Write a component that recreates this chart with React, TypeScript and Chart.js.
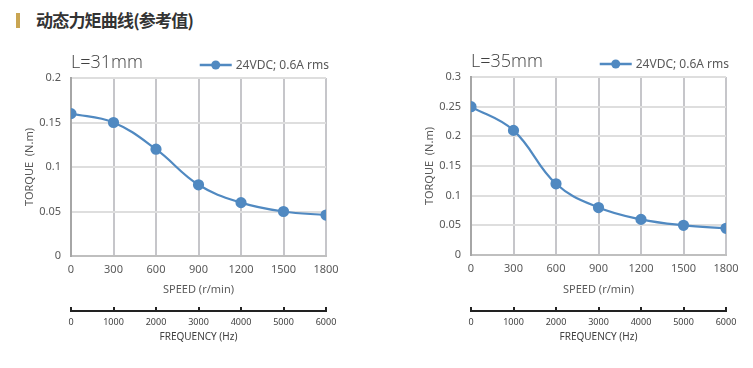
import React, { useEffect, useRef } from "react";
import { Chart, registerables } from "chart.js";

Chart.register(...registerables);

const speedTicks = [0, 300, 600, 900, 1200, 1500, 1800];
const freqTicks = [0, 1000, 2000, 3000, 4000, 5000, 6000];
const torque31 = [0.16, 0.15, 0.12, 0.08, 0.06, 0.05, 0.046];
const torque35 = [0.25, 0.21, 0.12, 0.08, 0.06, 0.05, 0.045];
const torqueTicks31 = [0, 0.05, 0.1, 0.15, 0.2];
const torqueTicks35 = [0, 0.05, 0.1, 0.15, 0.2, 0.25, 0.3];
const seriesLabel = "24VDC; 0.6A rms";
const headerText = "动态力矩曲线(参考值)";

const LINE = "#5089c1";
const FONT = '"Noto Sans", "Open Sans", sans-serif';

const legendTitlePlugin = (title: string) => ({
  id: "legendTitle",
  afterDraw(chart: any) {
    const { ctx, chartArea } = chart;
    const ds = chart.data.datasets[0];
    ctx.save();
    // title
    ctx.font = `300 18px "Open Sans", ${FONT}`;
    ctx.fillStyle = "#404040";
    ctx.textBaseline = "middle";
    ctx.textAlign = "left";
    ctx.fillText(title, chartArea.left, chartArea.top - 15);
    // legend
    ctx.font = `12px ${FONT}`;
    const w = ctx.measureText(ds.label).width;
    const textX = chartArea.right + 3 - w;
    const ly = chartArea.top - 13;
    const lineEnd = textX - 4;
    const lineStart = lineEnd - 32;
    ctx.strokeStyle = LINE;
    ctx.lineWidth = 2.5;
    ctx.beginPath();
    ctx.moveTo(lineStart, ly);
    ctx.lineTo(lineEnd, ly);
    ctx.stroke();
    ctx.fillStyle = LINE;
    ctx.beginPath();
    ctx.arc((lineStart + lineEnd) / 2, ly, 4.5, 0, Math.PI * 2);
    ctx.fill();
    ctx.fillStyle = "#595959";
    ctx.fillText(ds.label, textX, ly + 0.5);
    ctx.restore();
  },
});

function fmt(v: any) {
  return String(+Number(v).toFixed(3));
}

function Panel(props: {
  title: string;
  values: number[];
  yTicks: number[];
  left: number;
  width: number;
  padTop: number;
  xHeight: number;
}) {
  const ref = useRef<HTMLCanvasElement>(null);
  const { title, values, yTicks, left, width, padTop, xHeight } = props;
  useEffect(() => {
    if (!ref.current) return;
    const chart = new Chart(ref.current, {
      type: "line",
      data: {
        datasets: [
          {
            label: seriesLabel,
            data: speedTicks.map((s, i) => ({ x: s, y: values[i] })),
            borderColor: LINE,
            backgroundColor: LINE,
            borderWidth: 2.2,
            pointRadius: 4.5,
            pointBackgroundColor: LINE,
            pointBorderColor: LINE,
            tension: 0.4,
            fill: false,
          },
        ],
      },
      options: {
        animation: false,
        responsive: false,
        maintainAspectRatio: false,
        layout: { padding: { top: padTop, left: 0, right: width - 326, bottom: 17 } },
        plugins: {
          legend: { display: false },
          title: { display: false },
          tooltip: { enabled: false },
        },
        scales: {
          x: {
            type: "linear",
            position: "bottom",
            weight: 0,
            min: 0,
            max: speedTicks[speedTicks.length - 1],
            afterBuildTicks: (s: any) => {
              s.ticks = speedTicks.map((v) => ({ value: v }));
            },
            afterFit: (s: any) => {
              s.height = xHeight;
            },
            ticks: {
              callback: (v: any) => fmt(v),
              color: "#595959",
              font: { family: FONT, size: 11 },
              padding: 7,
              maxRotation: 0,
            },
            grid: { color: "#c6c6ca", lineWidth: 2, drawTicks: false },
            border: { color: "#bfbfbf", width: 2 },
            title: {
              display: true,
              text: "SPEED (r/min)",
              color: "#595959",
              font: { family: FONT, size: 11 },
              padding: { top: 0, bottom: 14.5 },
            },
          },
          x2: {
            type: "linear",
            position: "bottom",
            weight: 1,
            min: 0,
            max: freqTicks[freqTicks.length - 1],
            afterBuildTicks: (s: any) => {
              s.ticks = freqTicks.map((v) => ({ value: v }));
            },
            afterFit: (s: any) => {
              s.height = 40;
            },
            ticks: {
              callback: (v: any) => fmt(v),
              color: "#404040",
              font: { family: FONT, size: 9 },
              padding: 10,
              maxRotation: 0,
            },
            grid: {
              drawOnChartArea: false,
              color: "#222222",
              lineWidth: 2,
              tickLength: -4,
            },
            border: { color: "#222222", width: 2 },
            title: {
              display: true,
              text: "FREQUENCY (Hz)",
              color: "#404040",
              font: { family: FONT, size: 10 },
              padding: { top: 0, bottom: 7.5 },
            },
          },
          y: {
            type: "linear",
            min: 0,
            max: yTicks[yTicks.length - 1],
            afterBuildTicks: (s: any) => {
              s.ticks = yTicks.map((v) => ({ value: v }));
            },
            afterFit: (s: any) => {
              s.width = 71;
            },
            ticks: {
              callback: (v: any) => fmt(v),
              color: "#595959",
              font: { family: FONT, size: 11 },
              padding: 10,
            },
            grid: { color: "#dedede", lineWidth: 2, drawTicks: false },
            border: { color: "#a6a6a6", width: 2 },
            title: {
              display: true,
              text: "TORQUE  (N.m)",
              color: "#595959",
              font: { family: FONT, size: 11 },
              padding: { top: 23.5, bottom: 0 },
            },
          },
        },
      } as any,
      plugins: [legendTitlePlugin(title)],
    });
    return () => chart.destroy();
  }, []);
  return (
    <div style={{ position: "absolute", left, top: 40, width, height: 328 }}>
      <canvas ref={ref} width={width} height={328} style={{ display: "block" }} />
    </div>
  );
}

export default function App() {
  return (
    <div
      style={{
        position: "fixed",
        left: 0,
        top: 0,
        width: 753,
        height: 368,
        background: "#fff",
        overflow: "hidden",
      }}
    >
      <div
        style={{
          position: "absolute",
          left: 16,
          top: 13,
          width: 4,
          height: 15,
          background: "#c9a552",
        }}
      />
      <div
        style={{
          position: "absolute",
          left: 36,
          top: 8,
          fontFamily: '"Noto Sans CJK SC", sans-serif',
          fontWeight: 700,
          fontSize: 17,
          letterSpacing: -0.8,
          color: "#333333",
          lineHeight: "24px",
          whiteSpace: "nowrap",
        }}
      >
        {headerText}
      </div>
      <Panel title="L=31mm" values={torque31} yTicks={torqueTicks31} left={0} width={376} padTop={38} xHeight={55} />
      <Panel title="L=35mm" values={torque35} yTicks={torqueTicks35} left={400} width={353} padTop={37} xHeight={56} />
    </div>
  );
}
